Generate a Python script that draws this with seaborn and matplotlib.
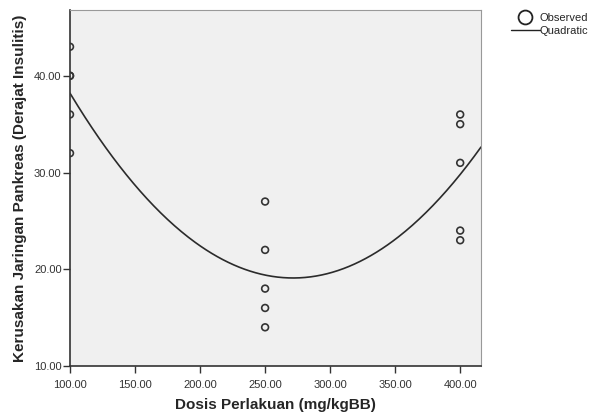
import numpy as np
import pandas as pd
import matplotlib
matplotlib.use("Agg")
import matplotlib.pyplot as plt
import seaborn as sns
from matplotlib.lines import Line2D

dose = [100, 100, 100, 100, 100, 250, 250, 250, 250, 250, 400, 400, 400, 400, 400]
damage = [43, 40, 40, 36, 32, 27, 22, 18, 16, 14, 36, 35, 31, 24, 23]
x_ticks = [100, 150, 200, 250, 300, 350, 400]
y_ticks = [10, 20, 30, 40]

sns.set_theme(style="white")
plt.rcParams['font.family'] = ['Liberation Sans', 'DejaVu Sans']

df = pd.DataFrame({"dose": dose, "damage": damage})
coef = np.polyfit(df["dose"], df["damage"], 2)
xs = np.linspace(100, 416, 300)
fit = pd.DataFrame({"dose": xs, "damage": np.polyval(coef, xs)})

fig = plt.figure(figsize=(5.96, 4.17), dpi=100)
ax = fig.add_axes([70/596, 1 - 366/417, (481-70)/596, (366-10)/417])
ax.set_facecolor("#F0F0F0")

sns.lineplot(data=fit, x="dose", y="damage", ax=ax, color="#2b2b2b", linewidth=1.2)
sns.scatterplot(data=df, x="dose", y="damage", ax=ax, marker="o", s=24,
                facecolor="none", edgecolor="#333333", linewidth=1.2, clip_on=True)

ax.set_xlim(100, 416)
ax.set_ylim(10, 46.8)
ax.set_xticks(x_ticks)
ax.set_yticks(y_ticks)
ax.set_xticklabels([f"{v:.2f}" for v in x_ticks], fontsize=8, color="#333333")
ax.set_yticklabels([f"{v:.2f}" for v in y_ticks], fontsize=8, color="#333333")
ax.tick_params(axis="both", direction="out", length=5, width=1, color="#333333",
               bottom=True, left=True)
ax.tick_params(axis="x", pad=5)
ax.tick_params(axis="y", pad=1)

for s in ["left", "bottom"]:
    ax.spines[s].set_color("#333333")
    ax.spines[s].set_linewidth(1.2)
for s in ["top", "right"]:
    ax.spines[s].set_color("#999999")
    ax.spines[s].set_linewidth(0.8)

ax.set_xlabel("Dosis Perlakuan (mg/kgBB)", fontsize=11, fontweight="bold", labelpad=6)
ax.set_ylabel("Kerusakan Jaringan Pankreas (Derajat Insulitis)", fontsize=11,
              fontweight="bold", labelpad=5)

handles = [Line2D([], [], marker="o", linestyle="none", markerfacecolor="none",
                  markeredgecolor="#222222", markersize=10, markeredgewidth=1.3),
           Line2D([], [], color="#222222", linewidth=1.0)]
fig.legend(handles, ["Observed", "Quadratic"], loc="upper left",
           bbox_to_anchor=(511/596, 1 - 13/417), frameon=False, fontsize=8,
           handlelength=2.6, handletextpad=0.0, borderaxespad=0, borderpad=0,
           labelspacing=0.25)

fig.savefig("out.png", dpi=100, facecolor="white")
